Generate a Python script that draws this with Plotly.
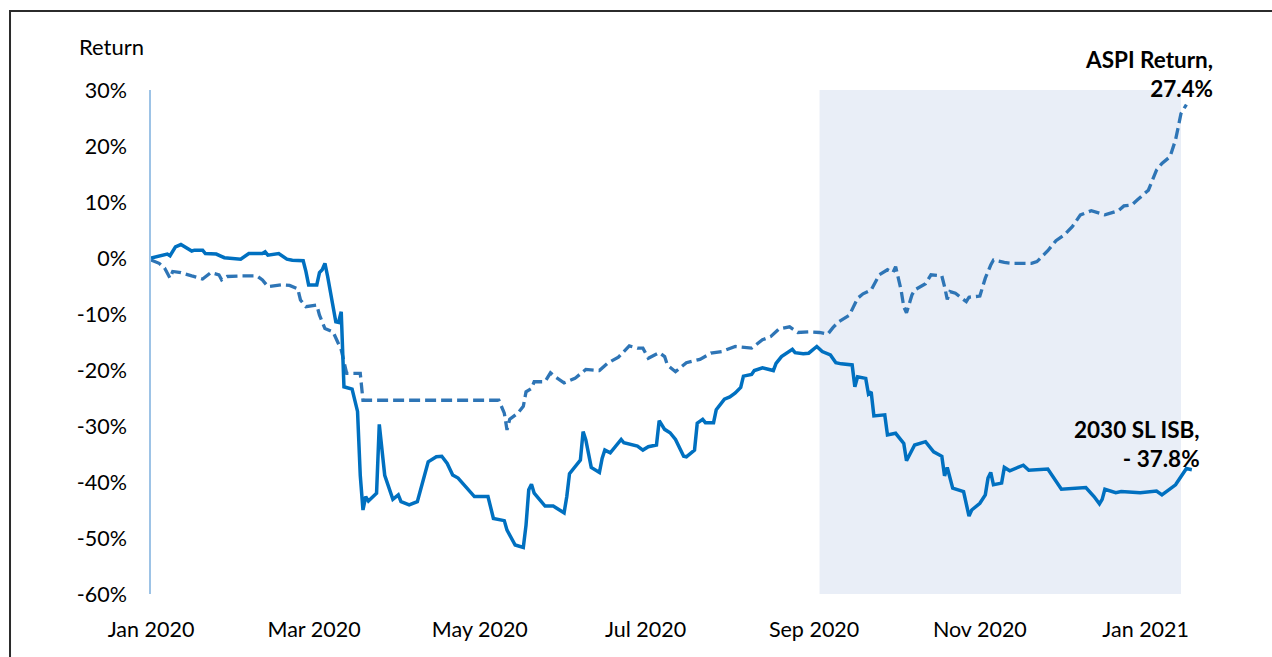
import plotly.graph_objects as go

# 2030 SL ISB return (%)
slisb_dates = [
    "2020-01-01", "2020-01-05", "2020-01-07", "2020-01-08", "2020-01-10", "2020-01-12", "2020-01-16",
    "2020-01-17", "2020-01-20", "2020-01-21", "2020-01-25", "2020-01-28", "2020-01-30", "2020-01-31",
    "2020-02-03", "2020-02-06", "2020-02-11", "2020-02-12", "2020-02-13", "2020-02-17", "2020-02-20",
    "2020-02-22", "2020-02-26", "2020-02-27", "2020-02-28", "2020-03-02", "2020-03-03", "2020-03-04",
    "2020-03-05", "2020-03-06", "2020-03-09", "2020-03-10", "2020-03-11", "2020-03-12", "2020-03-15",
    "2020-03-17", "2020-03-18", "2020-03-19", "2020-03-20", "2020-03-21", "2020-03-24", "2020-03-25",
    "2020-03-27", "2020-03-30", "2020-04-01", "2020-04-02", "2020-04-05", "2020-04-08", "2020-04-12",
    "2020-04-15", "2020-04-17", "2020-04-19", "2020-04-21", "2020-04-23", "2020-04-28", "2020-04-29",
    "2020-05-04", "2020-05-06", "2020-05-10", "2020-05-11", "2020-05-14", "2020-05-17", "2020-05-18",
    "2020-05-19", "2020-05-20", "2020-05-21", "2020-05-25", "2020-05-28", "2020-06-01", "2020-06-02",
    "2020-06-03", "2020-06-07", "2020-06-08", "2020-06-09", "2020-06-11", "2020-06-14", "2020-06-15",
    "2020-06-16", "2020-06-18", "2020-06-22", "2020-06-23", "2020-06-28", "2020-06-30", "2020-07-02",
    "2020-07-05", "2020-07-06", "2020-07-08", "2020-07-10", "2020-07-12", "2020-07-15", "2020-07-16",
    "2020-07-19", "2020-07-20", "2020-07-22", "2020-07-23", "2020-07-26", "2020-07-27", "2020-07-30",
    "2020-08-01", "2020-08-03", "2020-08-05", "2020-08-06", "2020-08-09", "2020-08-10", "2020-08-13",
    "2020-08-17", "2020-08-18", "2020-08-20", "2020-08-24", "2020-08-25", "2020-08-28", "2020-08-30",
    "2020-09-02", "2020-09-04", "2020-09-07", "2020-09-09", "2020-09-11", "2020-09-15", "2020-09-16",
    "2020-09-17", "2020-09-20", "2020-09-21", "2020-09-22", "2020-09-23", "2020-09-27", "2020-09-28",
    "2020-10-01", "2020-10-04", "2020-10-05", "2020-10-08", "2020-10-12", "2020-10-15", "2020-10-18",
    "2020-10-19", "2020-10-20", "2020-10-22", "2020-10-26", "2020-10-28", "2020-10-29", "2020-11-01",
    "2020-11-03", "2020-11-04", "2020-11-05", "2020-11-06", "2020-11-09", "2020-11-10", "2020-11-12",
    "2020-11-17", "2020-11-19", "2020-11-26", "2020-12-01", "2020-12-07", "2020-12-10", "2020-12-13",
    "2020-12-15", "2020-12-16", "2020-12-17", "2020-12-21", "2020-12-23", "2020-12-30", "2021-01-05",
    "2021-01-07", "2021-01-12", "2021-01-16", "2021-01-18",
]
slisb_values = [
    0.0, 0.4, 0.7, 0.4, 2.0, 2.4, 1.25,
    1.4, 1.4, 0.8, 0.7, 0.05, -0.05, 0.05,
    -0.2, 0.8, 0.8, 1.1, 0.5, 0.8, -0.2,
    -0.4, -0.5, -2.4, -4.8, -4.8, -2.6, -2.1,
    -0.95, -3.3, -11.4, -11.5, -9.6, -23.0, -23.4,
    -27.4, -38.8, -45.0, -42.6, -43.4, -42.0, -29.7,
    -38.8, -43.1, -42.3, -43.5, -44.1, -43.5, -36.4,
    -35.5, -35.4, -36.7, -38.75, -39.3, -42.0, -42.6,
    -42.6, -46.5, -46.9, -48.6, -51.25, -51.7, -47.7,
    -41.4, -40.4, -42.0, -44.3, -44.3, -45.5, -42.6,
    -38.5, -36.1, -31.0, -32.5, -37.4, -38.3, -35.8,
    -34.3, -34.8, -32.4, -33.0, -33.6, -34.3, -33.7,
    -33.4, -29.05, -30.6, -31.2, -32.4, -35.4, -35.5,
    -34.3, -29.5, -28.8, -29.4, -29.4, -27.1, -25.2,
    -24.8, -24.1, -23.1, -21.1, -20.8, -20.1, -19.6,
    -20.1, -18.8, -17.6, -16.3, -16.9, -17.1, -17.0,
    -15.8, -16.7, -17.3, -18.7, -18.9, -19.1, -23.0,
    -21.2, -21.5, -24.3, -23.9, -28.2, -28.0, -31.6,
    -31.3, -33.1, -36.2, -33.4, -32.8, -34.6, -35.4,
    -38.9, -37.4, -41.1, -41.7, -46.1, -45.0, -43.8,
    -42.3, -39.3, -38.3, -40.5, -40.2, -37.4, -38.0,
    -37.0, -37.9, -37.7, -41.3, -41.1, -41.0, -42.6,
    -43.9, -43.1, -41.3, -41.9, -41.7, -41.9, -41.6,
    -42.3, -40.5, -37.6, -37.8,
]

# ASPI return (%)
aspi_dates = [
    "2020-01-01", "2020-01-04", "2020-01-06", "2020-01-08", "2020-01-09", "2020-01-12", "2020-01-16",
    "2020-01-20", "2020-01-23", "2020-01-26", "2020-01-27", "2020-01-29", "2020-02-03", "2020-02-09",
    "2020-02-11", "2020-02-13", "2020-02-18", "2020-02-21", "2020-02-24", "2020-02-25", "2020-02-27",
    "2020-03-02", "2020-03-03", "2020-03-05", "2020-03-08", "2020-03-10", "2020-03-11", "2020-03-12",
    "2020-03-13", "2020-03-18", "2020-03-19", "2020-05-08", "2020-05-10", "2020-05-11", "2020-05-12",
    "2020-05-15", "2020-05-17", "2020-05-18", "2020-05-20", "2020-05-21", "2020-05-25", "2020-05-27",
    "2020-05-29", "2020-06-01", "2020-06-05", "2020-06-09", "2020-06-12", "2020-06-14", "2020-06-17",
    "2020-06-21", "2020-06-25", "2020-06-28", "2020-06-30", "2020-07-02", "2020-07-06", "2020-07-08",
    "2020-07-09", "2020-07-12", "2020-07-16", "2020-07-21", "2020-07-25", "2020-07-29", "2020-08-03",
    "2020-08-09", "2020-08-13", "2020-08-16", "2020-08-19", "2020-08-23", "2020-08-26", "2020-08-30",
    "2020-09-03", "2020-09-06", "2020-09-08", "2020-09-10", "2020-09-14", "2020-09-17", "2020-09-19",
    "2020-09-22", "2020-09-25", "2020-09-28", "2020-09-30", "2020-10-01", "2020-10-03", "2020-10-04",
    "2020-10-05", "2020-10-07", "2020-10-08", "2020-10-12", "2020-10-14", "2020-10-18", "2020-10-19",
    "2020-10-20", "2020-10-21", "2020-10-23", "2020-10-27", "2020-10-28", "2020-11-01", "2020-11-03",
    "2020-11-05", "2020-11-06", "2020-11-10", "2020-11-13", "2020-11-20", "2020-11-22", "2020-11-26",
    "2020-11-29", "2020-12-02", "2020-12-05", "2020-12-08", "2020-12-12", "2020-12-17", "2020-12-22",
    "2020-12-24", "2020-12-27", "2020-12-29", "2021-01-02", "2021-01-05", "2021-01-07", "2021-01-10",
    "2021-01-12", "2021-01-13", "2021-01-14", "2021-01-16",
]
aspi_values = [
    -0.36, -0.95, -1.8, -3.6, -2.4, -2.6, -3.2,
    -3.75, -2.6, -3.0, -3.9, -3.3, -3.2, -3.2,
    -3.9, -5.1, -4.8, -4.9, -5.5, -7.5, -8.7,
    -8.4, -10.2, -12.6, -13.2, -15.5, -16.4, -18.5,
    -20.6, -20.6, -25.4, -25.4, -27.7, -30.7, -28.8,
    -27.7, -26.5, -23.9, -23.3, -22.1, -22.1, -20.5,
    -21.3, -22.3, -21.5, -19.9, -20.1, -20.1, -18.8,
    -17.7, -15.7, -16.1, -16.1, -17.9, -16.9, -17.6,
    -19.1, -20.3, -18.7, -18.1, -17.0, -16.7, -15.8,
    -16.1, -14.6, -14.05, -12.7, -12.3, -13.3, -13.2,
    -13.3, -13.6, -12.4, -11.4, -10.2, -7.2, -6.4,
    -5.7, -3.0, -2.1, -2.6, -1.55, -5.7, -8.7,
    -9.8, -6.6, -5.7, -4.6, -3.0, -3.2, -5.1,
    -7.4, -6.0, -6.3, -7.8, -7.0, -6.8, -3.6,
    -1.25, -0.36, -0.8, -0.95, -0.95, -0.65, 1.3,
    3.1, 4.1, 5.6, 7.7, 8.45, 7.7, 8.45,
    9.3, 9.5, 10.4, 12.1, 15.7, 16.9, 18.1,
    21.1, 23.4, 25.8, 27.4,
]

y_tickvals = [30, 20, 10, 0, -10, -20, -30, -40, -50, -60]
y_ticktext = ["30%", "20%", "10%", "0%", "-10%", "-20%", "-30%", "-40%", "-50%", "-60%"]
shade_start, shade_end = "2020-09-03", "2021-01-14"
x_range = ["2020-01-01", "2021-01-21"]

FONT = "Lato, 'Open Sans', sans-serif"

fig = go.Figure()
fig.add_trace(go.Scatter(
    x=aspi_dates, y=aspi_values, mode="lines", name="ASPI Return",
    line=dict(color="#2E75B6", width=3.3, dash="11px,5px"),
))
fig.add_trace(go.Scatter(
    x=slisb_dates, y=slisb_values, mode="lines", name="2030 SL ISB",
    line=dict(color="#0070C0", width=3.5),
))

fig.add_shape(type="rect", xref="x", yref="y", x0=shade_start, x1=shade_end,
              y0=-60, y1=30, fillcolor="#E9EEF7", line=dict(width=0), layer="below")

# outer frame (only top and left edges fall inside the picture)
fig.add_shape(type="rect", xref="paper", yref="paper",
              x0=-0.1344, x1=1.3, y0=-0.3, y1=1.1567,
              line=dict(color="#2b2b2b", width=2), fillcolor="rgba(0,0,0,0)")

fig.add_annotation(xref="paper", yref="paper", x=-0.0705, y=1.087, xanchor="left", yanchor="middle",
                   text="Return", showarrow=False, font=dict(size=22, color="#000", family=FONT))

fig.add_annotation(x=aspi_dates[-1], y=aspi_values[-1], xref="x", yref="y",
                   text="<b>ASPI Return,</b><br><b>%.1f%%</b>" % aspi_values[-1],
                   showarrow=False, xanchor="right", yanchor="bottom", align="right",
                   xshift=29, yshift=1,
                   font=dict(size=22.5, color="#000", family=FONT))
fig.add_annotation(x=slisb_dates[-1], y=slisb_values[-1], xref="x", yref="y",
                   text="<b>2030 SL ISB,</b><br><b>- %.1f%%</b>" % abs(slisb_values[-1]),
                   showarrow=False, xanchor="right", yanchor="bottom", align="right",
                   xshift=10, yshift=-4,
                   font=dict(size=22.5, color="#000", family=FONT))

fig.update_layout(
    width=1272, height=657,
    margin=dict(l=151, r=72, t=90, b=63),
    paper_bgcolor="white", plot_bgcolor="white",
    showlegend=False,
    font=dict(family=FONT, size=21.5, color="#000"),
    xaxis=dict(type="date", range=x_range, dtick="M2", tick0="2020-01-01",
               tickformat="%b %Y", showgrid=False, zeroline=False, showline=False,
               ticks="", ticklabelstandoff=20, tickfont=dict(size=21.5)),
    yaxis=dict(range=[-60, 30], tickvals=y_tickvals, ticktext=y_ticktext,
               showgrid=False, zeroline=False, showline=True, linecolor="#9DC3E6", linewidth=1.5,
               ticks="", ticklabelstandoff=18, tickfont=dict(size=21.5)),
)

fig.write_html("out.html")
